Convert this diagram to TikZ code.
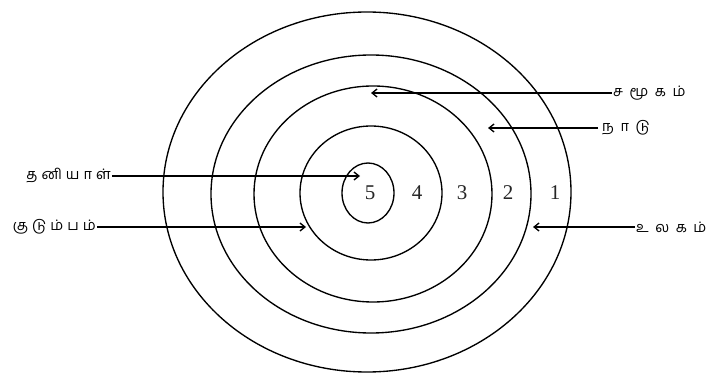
\documentclass[tikz,border=0pt]{standalone}
\usepackage{fontspec}
\setmainfont{Liberation Serif}
\newfontfamily\tamil[Script=Tamil,LetterSpace=28]{Hind Madurai}
\newfontfamily\tamilwide[Script=Tamil,LetterSpace=45]{Hind Madurai}
\usetikzlibrary{arrows.meta}
\begin{document}
\begin{tikzpicture}[x=1pt,y=-1pt,
  ring/.style={line width=1.35pt},
  lbl/.style={font=\tamil\fontsize{14.5pt}{16pt}\selectfont, inner sep=1pt},
  rlbl/.style={font=\tamilwide\fontsize{14.5pt}{16pt}\selectfont, inner sep=1pt, anchor=west},
  num/.style={font=\fontsize{21pt}{23pt}\selectfont, inner sep=0pt, text=black!85},
  pointer/.style={line width=1.35pt, -{Straight Barb[length=5pt,width=8pt]}}]
\useasboundingbox (0,0) rectangle (718,374);
% rings
\draw[ring] (367,192) ellipse [x radius=204pt, y radius=180pt];
\draw[ring] (371,194) ellipse [x radius=160pt, y radius=139pt];
\draw[ring] (373,194) ellipse [x radius=119pt, y radius=108pt];
\draw[ring] (371,193) ellipse [x radius=71pt, y radius=67pt];
\draw[ring] (368,193) ellipse [x radius=26pt, y radius=30pt];
% numbers
\node[num] (n5) at (370,193) {5};
\node[num] (n4) at (417,193) {4};
\node[num] (n3) at (462,193) {3};
\node[num] (n2) at (508,193) {2};
\node[num] (n1) at (555,193) {1};
% labels
\node[rlbl] (samugam) at (612,93) {சமூகம்};
\node[rlbl, inner sep=4pt] (nadu) at (598,128) {நாடு};
\node[rlbl] (ulagam) at (635,227) {உலகம்};
\node[lbl, anchor=east] (thaniyal) at (112,176) {தனியாள்};
\node[lbl, anchor=east] (kudumbam) at (97,227) {குடும்பம்};
% arrow ends
\coordinate (e1) at (371,93);
\coordinate (e2) at (488,128);
\coordinate (e3) at (533,227);
\coordinate (e4) at (360,176);
\coordinate (e5) at (306,227);
\draw[pointer] (samugam.west) -- (e1);
\draw[pointer] (nadu.west) -- (e2);
\draw[pointer] (ulagam.west) -- (e3);
\draw[pointer] (thaniyal.east) -- (e4);
\draw[pointer] (kudumbam.east) -- (e5);
\end{tikzpicture}
\end{document}
